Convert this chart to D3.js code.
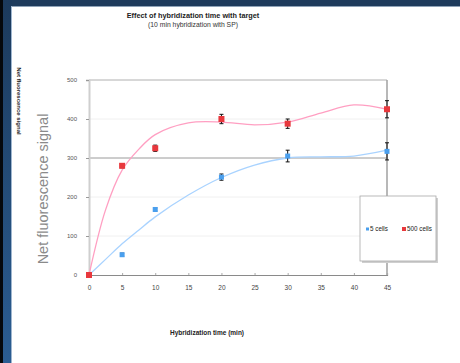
<!DOCTYPE html>
<html>
<head>
<meta charset="utf-8">
<script src="https://cdn.jsdelivr.net/npm/d3@7"></script>
<style>
  html, body { margin: 0; padding: 0; background: #fff; }
  svg { display: block; }
</style>
</head>
<body>
<svg id="chart" width="460" height="363"></svg>
<script>
// Hybridization time (min) of the measured points
const times = [0, 5, 10, 20, 30, 45];
// Net fluorescence signal, mean and error for each cell count
const cells5 = [0, 52, 168, 251, 305, 317];
const cells5Err = [0, 4, 4, 8, 15, 22];
const cells500 = [0, 280, 325, 400, 388, 425];
const cells500Err = [0, 5, 8, 12, 12, 22];
// Trendline samples
const trendTimes = [0, 2.5, 5, 7.5, 10, 15, 20, 25, 30, 35, 40, 45];
const trend5 = [0, 40, 80, 115, 149, 205, 250, 282, 300, 303, 305, 320];
const trend500 = [0, 167, 269, 322, 360, 390, 392, 385, 392, 415, 436, 425];
// Axis ticks
const xTicks = [0, 5, 10, 15, 20, 25, 30, 35, 40, 45];
const yTicks = [0, 100, 200, 300, 400, 500];
const seriesNames = ["5 cells", "500 cells"];

const svg = d3.select("#chart");
const font = "'Liberation Sans', Arial, sans-serif";

// Slide frame
const defs = svg.append("defs");
const grad = defs.append("linearGradient").attr("id", "side").attr("x1", 0).attr("y1", 0).attr("x2", 0).attr("y2", 1);
grad.append("stop").attr("offset", "0%").attr("stop-color", "#1c3a5c");
grad.append("stop").attr("offset", "100%").attr("stop-color", "#2b5d92");
svg.append("rect").attr("x", 0).attr("y", 0).attr("width", 460).attr("height", 6).attr("fill", "#1e3b5c");
svg.append("rect").attr("x", 11).attr("y", 6).attr("width", 449).attr("height", 1).attr("fill", "#8fa3b8");
svg.append("rect").attr("x", 0).attr("y", 0).attr("width", 12).attr("height", 363).attr("fill", "url(#side)");
svg.append("rect").attr("x", 0).attr("y", 0).attr("width", 3).attr("height", 363).attr("fill", "#05080c");
svg.append("rect").attr("x", 11).attr("y", 6).attr("width", 1).attr("height", 357).attr("fill", "#9fb6cf");

const x = d3.scaleLinear().domain([0, 45]).range([89, 387]);
const y = d3.scaleLinear().domain([0, 500]).range([275, 80]);

// Gridlines
svg.append("g").selectAll("line").data([100, 200, 400]).join("line")
  .attr("x1", x(0)).attr("x2", x(45)).attr("y1", d => y(d)).attr("y2", d => y(d))
  .attr("stroke", "#f0f0f0").attr("stroke-width", 1);
svg.append("line").attr("x1", x(0)).attr("x2", x(45)).attr("y1", y(300)).attr("y2", y(300))
  .attr("stroke", "#9a9a9a").attr("stroke-width", 1);
svg.append("line").attr("x1", x(0)).attr("x2", x(45)).attr("y1", y(500)).attr("y2", y(500))
  .attr("stroke", "#b0b0b0").attr("stroke-width", 1);
svg.append("line").attr("x1", x(45)).attr("x2", x(45)).attr("y1", y(500)).attr("y2", y(0))
  .attr("stroke", "#a0a0a0").attr("stroke-width", 1.5);

// Axes
const yAxis = svg.append("g").attr("transform", `translate(${x(0)},0)`)
  .call(d3.axisLeft(y).tickValues(yTicks).tickSize(3).tickPadding(9));
yAxis.select(".domain").attr("stroke", "#cfcfcf").attr("stroke-width", 2);
yAxis.selectAll(".tick line").attr("stroke", "#999");
yAxis.selectAll("text").attr("font-family", font).attr("font-size", 6).attr("fill", "#555");

const xAxis = svg.append("g").attr("transform", `translate(0,${y(0)})`)
  .call(d3.axisBottom(x).tickValues(xTicks).tickSize(-2).tickPadding(10));
xAxis.select(".domain").attr("stroke", "#8a8a8a").attr("stroke-width", 1.2);
xAxis.selectAll(".tick line").attr("stroke", "#aaa");
xAxis.selectAll("text").attr("font-family", font).attr("font-size", 6.5).attr("fill", "#444");

// Trendlines
const line = d3.line().curve(d3.curveCatmullRom.alpha(0.5))
  .x((d, i) => x(trendTimes[i])).y(d => y(d));
svg.append("path").datum(trend500).attr("d", line)
  .attr("fill", "none").attr("stroke", "#ff9fc2").attr("stroke-width", 1.3);
svg.append("path").datum(trend5).attr("d", line)
  .attr("fill", "none").attr("stroke", "#a9d3ff").attr("stroke-width", 1.3);

// Error bars
function errorBars(vals, errs) {
  const g = svg.append("g").attr("stroke", "#111").attr("stroke-width", 1);
  times.forEach((t, i) => {
    if (!errs[i]) return;
    const cx = x(t), lo = y(vals[i] - errs[i]), hi = y(vals[i] + errs[i]);
    g.append("line").attr("x1", cx).attr("x2", cx).attr("y1", lo).attr("y2", hi);
    g.append("line").attr("x1", cx - 2).attr("x2", cx + 2).attr("y1", lo).attr("y2", lo);
    g.append("line").attr("x1", cx - 2).attr("x2", cx + 2).attr("y1", hi).attr("y2", hi);
  });
}
errorBars(cells5, cells5Err);
errorBars(cells500, cells500Err);

// Markers
svg.append("g").selectAll("rect").data(cells5).join("rect")
  .attr("x", (d, i) => x(times[i]) - 2.5).attr("y", d => y(d) - 2.5)
  .attr("width", 5).attr("height", 5).attr("fill", "#4a9fee");
svg.append("g").selectAll("rect").data(cells500).join("rect")
  .attr("x", (d, i) => x(times[i]) - 3).attr("y", d => y(d) - 3)
  .attr("width", 6).attr("height", 6).attr("fill", "#e8383d");

// Legend
const lg = svg.append("g");
lg.append("rect").attr("x", 362).attr("y", 198).attr("width", 76).attr("height", 65).attr("fill", "#cfcfcf");
lg.append("rect").attr("x", 360).attr("y", 196).attr("width", 76).attr("height", 65)
  .attr("fill", "#fff").attr("stroke", "#a8a8a8").attr("stroke-width", 0.8);
lg.append("rect").attr("x", 366).attr("y", 227.5).attr("width", 3).attr("height", 3).attr("fill", "#4a9fee");
lg.append("text").attr("x", 370).attr("y", 231).text(seriesNames[0])
  .attr("font-family", font).attr("font-size", 6.3).attr("fill", "#222");
lg.append("rect").attr("x", 402).attr("y", 227).attr("width", 4).attr("height", 4).attr("fill", "#e8383d");
lg.append("text").attr("x", 407).attr("y", 231).text(seriesNames[1])
  .attr("font-family", font).attr("font-size", 6.3).attr("fill", "#222");

// Titles
svg.append("text").attr("x", 193).attr("y", 18).attr("text-anchor", "middle")
  .attr("font-family", font).attr("font-size", 7.3).attr("font-weight", "bold").attr("fill", "#222")
  .text("Effect of hybridization time with target");
svg.append("text").attr("x", 193).attr("y", 27).attr("text-anchor", "middle")
  .attr("font-family", font).attr("font-size", 6.8).attr("fill", "#333")
  .text("(10 min hybridization with SP)");
svg.append("text").attr("x", 207).attr("y", 335).attr("text-anchor", "middle")
  .attr("font-family", font).attr("font-size", 6.5).attr("font-weight", "bold").attr("fill", "#222")
  .text("Hybridization time (min)");
svg.append("text").attr("transform", "translate(17,101) rotate(90)").attr("text-anchor", "middle")
  .attr("font-family", font).attr("font-size", 6).attr("font-weight", "bold").attr("fill", "#222")
  .text("Net fluorescence signal");
svg.append("text").attr("transform", "translate(48,189) rotate(-90)").attr("text-anchor", "middle")
  .attr("font-family", font).attr("font-size", 14.5).attr("fill", "#8a8a8a")
  .text("Net fluorescence signal");
</script>
</body>
</html>
